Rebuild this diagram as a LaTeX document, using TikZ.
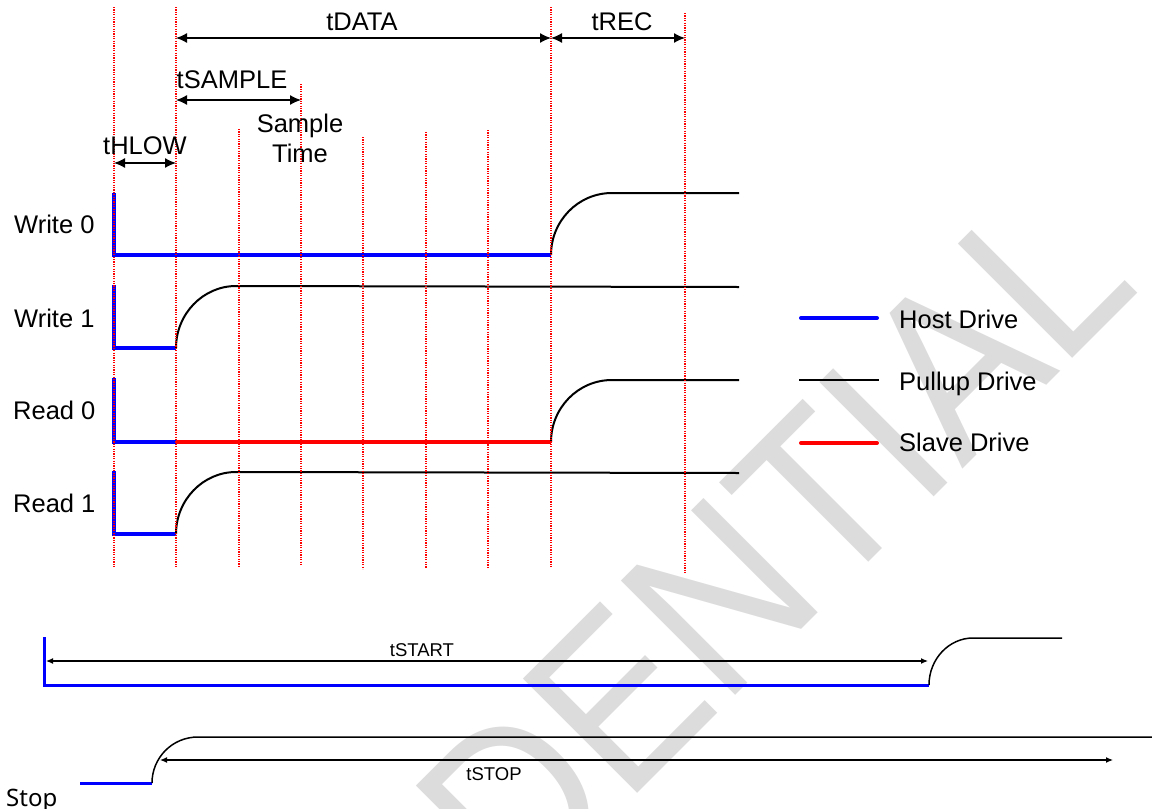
\documentclass[tikz,border=0pt]{standalone}
\usepackage{fontspec}
\setmainfont{Liberation Sans}
\newfontfamily\stopfont{Noto Sans}
\usetikzlibrary{arrows.meta, positioning}
\definecolor{hostblue}{RGB}{0,0,255}
\definecolor{slavered}{RGB}{255,0,0}
\definecolor{wmgray}{RGB}{220,220,220}

\begin{document}
\begin{tikzpicture}[x=1pt, y=-1pt,
    marker/.style={slavered, line width=1.2pt, dash pattern=on 1.2pt off 1.2pt},
    hostdrv/.style={hostblue, line width=4pt},
    pulldrv/.style={black, line width=2pt},
    slavedrv/.style={slavered, line width=4pt},
    dimarrow/.style={line width=1.3pt, {Latex[length=11pt,width=10pt]}-{Latex[length=11pt,width=10pt]}},
    smallarrow/.style={line width=1.2pt, {Latex[length=7pt,width=6pt]}-{Latex[length=7pt,width=6pt]}},
    lbl/.style={font=\fontsize{25.5}{30}\selectfont, inner sep=0pt},
    smalllbl/.style={font=\fontsize{18.5}{22}\selectfont, inner sep=0pt}]
    \useasboundingbox (0,0) rectangle (1152,809);

    % Watermark
    \begin{scope}[shift={(1143,288)}, rotate=45, xscale=0.89]
        \node[transform shape, anchor=base east, inner sep=0pt, text=wmgray,
              font=\fontsize{235}{235}\selectfont] (wmark) at (0,0) {CONFIDENTIAL};
    \end{scope}

    % Write 0
    \draw[hostdrv] (114,193) -- (114,255) -- (551,255);
    \draw[pulldrv] (551,255) .. controls (551,221) and (578,193) .. (612,193) -- (739,193);

    % Write 1
    \draw[hostdrv] (114,285) -- (114,348) -- (176,348);
    \draw[pulldrv] (176,348) .. controls (176,314) and (203,286) .. (236,286) -- (739,287);

    % Read 0
    \draw[hostdrv] (114,378) -- (114,442) -- (176,442);
    \draw[slavedrv] (176,442) -- (551,442);
    \draw[pulldrv] (551,442) .. controls (551,408) and (578,380) .. (612,380) -- (739,380);

    % Read 1
    \draw[hostdrv] (114,471) -- (114,534) -- (176,534);
    \draw[pulldrv] (176,534) .. controls (176,500) and (203,472) .. (236,472) -- (739,473);

    % Time markers
    \foreach \x/\top/\bot in {114/7/567, 176/7/567, 239/129/566, 301/84/566,
                              363/137/569, 426/132/568, 488/130/567, 551/7/567, 685/13/573}
        \draw[marker] (\x,\top) -- (\x,\bot);

    % Timing arrows
    \draw[dimarrow] (176,38) -- (551,38);
    \draw[dimarrow] (551,38) -- (685,38);
    \draw[dimarrow] (176,100) -- (301,100);
    \draw[dimarrow] (114,163) -- (176,163);
    \node[lbl, anchor=base] (tdata) at (362,30) {tDATA};
    \node[lbl, anchor=base] (trec) at (622,30) {tREC};
    \node[lbl, anchor=base] (tsample) at (232,88) {tSAMPLE};
    \node[lbl, anchor=base] (sample) at (300,132) {Sample};
    \node[lbl, anchor=base] (time) at (300,162) {Time};
    \node[lbl, anchor=base] (thlow) at (145,154) {tHLOW};

    % Signal names
    \node[lbl, anchor=base west] (w0) at (14,233) {Write 0};
    \node[lbl, anchor=base west] (w1) at (14,327) {Write 1};
    \node[lbl, anchor=base west] (r0) at (13,419) {Read 0};
    \node[lbl, anchor=base west] (r1) at (13,512) {Read 1};

    % Legend
    \draw[hostblue, line width=4pt, line cap=round] (801,318) -- (877,318);
    \draw[black, line width=2pt] (799,380) -- (879,380);
    \draw[slavered, line width=4pt, line cap=round] (801,443) -- (877,443);
    \node[lbl, anchor=base west] (host) at (899,328) {Host Drive};
    \node[lbl, anchor=base west] (pullup) at (899,390) {Pullup Drive};
    \node[lbl, anchor=base west] (slave) at (899,451) {Slave Drive};

    % Start condition
    \draw[hostblue, line width=3pt] (44,637) -- (44,685) -- (929,685);
    \draw[black, line width=1.5pt] (929,685) .. controls (929,659) and (949,638) .. (973,638) -- (1062,638);
    \draw[smallarrow] (46,661) -- (928,661);
    \node[smalllbl, anchor=base] (tstart) at (422,656) {tSTART};

    % Stop condition
    \draw[hostblue, line width=3pt] (80,783) -- (152,783);
    \draw[black, line width=1.5pt] (152,783) .. controls (152,758) and (172,737) .. (198,737) -- (1152,737);
    \draw[smallarrow] (160,760) -- (1113,760);
    \node[smalllbl, anchor=base] (tstop) at (494,780) {tSTOP};
    \node[anchor=base west, inner sep=0pt, font=\stopfont\fontsize{24}{28}\selectfont] (stop) at (6,806) {Stop};
\end{tikzpicture}
\end{document}
